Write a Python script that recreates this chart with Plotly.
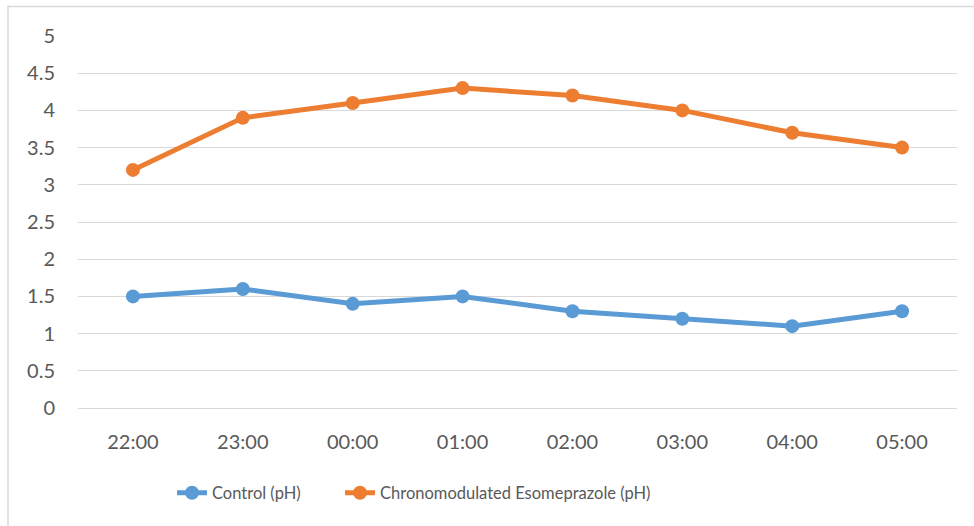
import plotly.graph_objects as go

categories = ["22:00", "23:00", "00:00", "01:00", "02:00", "03:00", "04:00", "05:00"]
control_ph = [1.5, 1.6, 1.4, 1.5, 1.3, 1.2, 1.1, 1.3]
esomeprazole_ph = [3.2, 3.9, 4.1, 4.3, 4.2, 4.0, 3.7, 3.5]
y_ticks = [0, 0.5, 1, 1.5, 2, 2.5, 3, 3.5, 4, 4.5, 5]
y_tick_labels = ["0", "0.5", "1", "1.5", "2", "2.5", "3", "3.5", "4", "4.5", "5"]

W, H = 974, 526
ml, mr, mt, mb = 78, 17, 36, 118
pw, ph = W - ml - mr, H - mt - mb
FONT = "Lato, sans-serif"
TXT = "#595959"

fig = go.Figure()
fig.add_trace(go.Scatter(
    x=categories, y=control_ph, name="Control (pH)", mode="lines+markers",
    line=dict(color="#5B9BD5", width=5), marker=dict(size=14, color="#5B9BD5"),
    legend="legend",
))
fig.add_trace(go.Scatter(
    x=categories, y=esomeprazole_ph, name="Chronomodulated Esomeprazole (pH)", mode="lines+markers",
    line=dict(color="#ED7D31", width=5), marker=dict(size=14, color="#ED7D31"),
    legend="legend2",
))

legend_common = dict(orientation="h", xref="container", yref="container",
                     yanchor="middle", xanchor="left", y=(H - 493) / H,
                     font=dict(family=FONT, size=16.5, color=TXT),
                     bgcolor="rgba(0,0,0,0)")

fig.update_layout(
    width=W, height=H,
    margin=dict(l=ml, r=mr, t=mt, b=mb, autoexpand=False),
    paper_bgcolor="white", plot_bgcolor="white",
    font=dict(family=FONT, size=17, color=TXT),
    showlegend=True,
    legend=dict(x=(170 + 2) / W, **legend_common),
    legend2=dict(x=(338 + 2) / W, **legend_common),
    xaxis=dict(type="category", range=[-0.5, 7.5], showgrid=False, zeroline=False,
               showline=False, ticks="", ticklabelstandoff=20,
               tickfont=dict(family=FONT, size=20, color=TXT)),
    yaxis=dict(range=[0, 5], tickvals=y_ticks, ticktext=y_tick_labels, showgrid=True,
               gridcolor="#D9D9D9", gridwidth=1, zeroline=True, zerolinecolor="#D9D9D9",
               zerolinewidth=1, showline=False, ticks="", ticklabelstandoff=22,
               tickfont=dict(family=FONT, size=20, color=TXT)),
    shapes=[dict(type="rect", xref="paper", yref="paper",
                 x0=(8 - ml) / pw, x1=1.2, y0=-0.5, y1=1 + (mt - 6.5) / ph,
                 line=dict(color="#D9D9D9", width=1.5), fillcolor="rgba(0,0,0,0)", layer="below")],
)

fig.write_html("out.html")
